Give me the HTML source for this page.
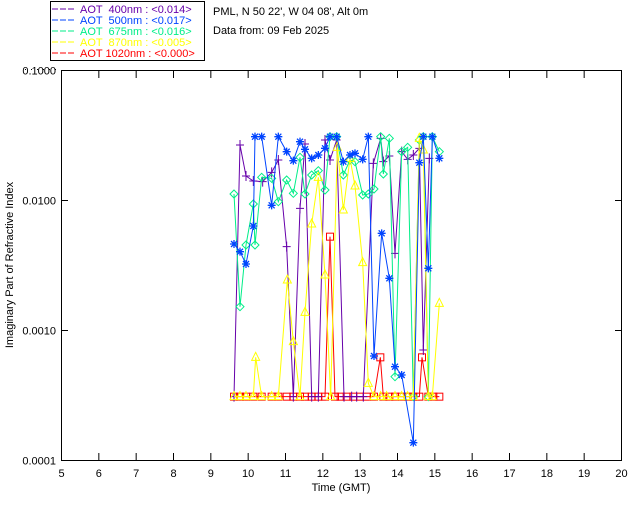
<!DOCTYPE html>
<html><head><meta charset="utf-8"><style>
html,body{margin:0;padding:0;background:#fff;width:640px;height:512px;overflow:hidden}
svg{display:block}
text{font-family:"Liberation Sans",sans-serif;font-size:11px}
</style></head><body>
<svg id="s" width="640" height="512" xmlns="http://www.w3.org/2000/svg">
<rect x="50.5" y="1.5" width="154" height="59" fill="none" stroke="#000"/>
<g font-size="11">
<line x1="52" y1="9" x2="74" y2="9" stroke="#6600aa" stroke-dasharray="6,2"/><text x="80" y="13" fill="#6600aa">AOT &#160;400nm : &lt;0.014&gt;</text>
<line x1="52" y1="20" x2="74" y2="20" stroke="#0044ff" stroke-dasharray="6,2"/><text x="80" y="24" fill="#0044ff">AOT &#160;500nm : &lt;0.017&gt;</text>
<line x1="52" y1="31" x2="74" y2="31" stroke="#00ee88" stroke-dasharray="6,2"/><text x="80" y="35" fill="#00ee88">AOT &#160;675nm : &lt;0.016&gt;</text>
<line x1="52" y1="42" x2="74" y2="42" stroke="#ffff00" stroke-dasharray="6,2"/><text x="80" y="46" fill="#ffff00">AOT &#160;870nm : &lt;0.005&gt;</text>
<line x1="52" y1="53" x2="74" y2="53" stroke="#ff0000" stroke-dasharray="6,2"/><text x="80" y="57" fill="#ff0000">AOT 1020nm : &lt;0.000&gt;</text>
</g>
<text x="213" y="15">PML, N 50 22', W 04 08', Alt 0m</text>
<text x="213" y="34">Data from: 09 Feb 2025</text>
<line x1="25" y1="69.5" x2="57" y2="69.5" stroke="#000" stroke-dasharray="1,5"/>
<rect x="61.5" y="70.5" width="560" height="390" fill="none" stroke="#000"/>
<g id="ax"></g>
<g id="data"></g>
<text x="0" y="0" transform="translate(13,265) rotate(-90)" text-anchor="middle">Imaginary Part of Refractive Index</text>
<text x="341" y="491" text-anchor="middle">Time (GMT)</text>
</svg>
<script>
var NS="http://www.w3.org/2000/svg",ax=document.getElementById("ax"),dg=document.getElementById("data");
function el(p,n,a,t){var e=document.createElementNS(NS,n);for(var k in a)e.setAttribute(k,a[k]);if(t!=null)e.textContent=t;p.appendChild(e);return e;}
for(var h=5;h<=20;h++){var x=61.5+(h-5)*560/15;
 if(h>5&&h<20){el(ax,"line",{x1:x,y1:460,x2:x,y2:453,stroke:"#000"});el(ax,"line",{x1:x,y1:71,x2:x,y2:78,stroke:"#000"});}
 el(ax,"text",{x:x,y:477,"text-anchor":"middle"},h);}
var labs=["0.1000","0.0100","0.0010","0.0001"];
for(var i=0;i<4;i++){var y=70.5+i*130;
 if(i>0&&i<3){el(ax,"line",{x1:61,y1:y,x2:68,y2:y,stroke:"#000"});el(ax,"line",{x1:622,y1:y,x2:615,y2:y,stroke:"#000"});}
 el(ax,"text",{x:56,y:y+4,"text-anchor":"end"},labs[i]);}
function cv(a){var r=[];for(var i=0;i<a.length;i+=2)r.push([220+a[i]/3,120+a[i+1]/3]);return r;}
var S=[
["#ff0000","sq",[42,830,60,830,78,830,100,830,125,830,155,830,175,830,200,830,220,830,240,830,255,830,275,830,295,830,315,830,330,350,345,830,362,830,380,830,400,830,420,830,440,830,462,830,481,712,490,830,508,830,525,830,545,830,563,830,580,830,598,830,606,712,625,830,640,830,658,830]],
["#6600aa","plus",[42,830,60,75,78,168,100,183,128,185,155,157,175,120,200,380,220,830,240,265,255,72,275,830,295,830,315,60,330,120,350,60,372,830,395,830,410,830,430,830,460,130,482,55,490,125,508,108,525,400,545,95,563,118,580,105,598,85,610,690,628,115]],
["#00ee88","dia",[42,222,60,560,78,375,100,252,105,375,125,172,155,175,175,245,200,180,220,220,240,112,255,222,275,165,295,152,315,210,330,50,350,50,370,165,390,120,405,125,428,225,445,222,462,207,482,50,490,162,508,55,525,770,545,95,563,82,580,830,598,60,610,50,625,830,637,50,658,95]],
["#ffff00","tri",[42,830,60,830,78,830,100,830,107,712,125,830,155,830,175,830,202,480,220,665,240,830,255,577,275,312,295,172,315,465,332,830,352,82,370,270,390,115,405,198,428,428,445,790,462,830,482,830,500,830,525,830,545,830,563,830,580,830,598,55,610,90,625,830,637,830,658,550]],
["#0044ff","star",[42,372,60,395,78,432,100,318,105,50,125,50,155,256,175,50,200,95,220,122,240,65,255,88,275,115,295,105,315,85,330,50,350,50,370,125,390,105,405,100,428,118,445,50,462,708,485,340,508,475,525,740,545,765,580,968,598,128,610,50,625,445,637,50,658,115]]
];
S.forEach(function(s){var p=cv(s[2]),c=s[0];
 el(dg,"polyline",{points:p.map(function(q){return q.join(",")}).join(" "),fill:"none",stroke:c,"stroke-width":1});
 p.forEach(function(q){var x=q[0],y=q[1],m=s[1];
  if(m=="sq")el(dg,"rect",{x:x-3.5,y:y-3.5,width:7,height:7,fill:"none",stroke:c});
  else if(m=="plus")el(dg,"path",{d:"M"+(x-4)+" "+y+"h8M"+x+" "+(y-5)+"v10",stroke:c,fill:"none"});
  else if(m=="dia")el(dg,"path",{d:"M"+x+" "+(y-4)+"l4 4l-4 4l-4 -4z",stroke:c,fill:"none"});
  else if(m=="tri")el(dg,"path",{d:"M"+x+" "+(y-5)+"l4 8h-8z",stroke:c,fill:"none"});
  else el(dg,"path",{d:"M"+(x-4)+" "+y+"h8M"+x+" "+(y-4)+"v8M"+(x-3)+" "+(y-3)+"l6 6M"+(x+3)+" "+(y-3)+"l-6 6",stroke:c,fill:"none","stroke-width":1.3});
 });
});
</script>
</body></html>
